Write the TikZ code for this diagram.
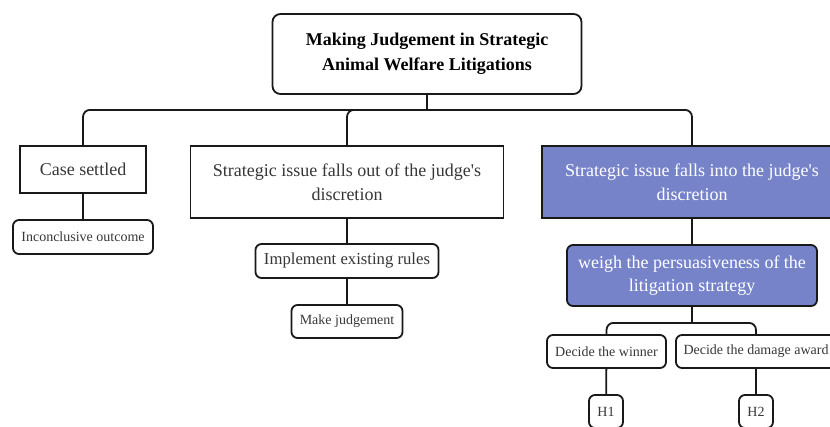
\documentclass[tikz,border=0pt]{standalone}
\usepackage{fontspec}
\setmainfont{Liberation Serif}[Ligatures=TeXOff]
\definecolor{bluefill}{RGB}{118,131,201}
\definecolor{txt}{RGB}{55,55,55}
\definecolor{ln}{RGB}{25,25,25}
\begin{document}
\begin{tikzpicture}[x=1pt,y=-1pt,
  base/.style={draw=ln,line width=1.8pt,inner sep=0pt,align=center,text=txt},
  rbox/.style={base,rounded corners=6pt},
  sbox/.style={base},
  bluebox/.style={base,fill=bluefill,text=white},
  conn/.style={draw=ln,line width=1.8pt,rounded corners=7pt},
  fsL/.style={font=\fontsize{18}{23.5}\selectfont},
  fsM/.style={font=\fontsize{16.7}{22}\selectfont},
  fsS/.style={font=\fontsize{14}{17}\selectfont}]
\useasboundingbox (0,0) rectangle (830,426);
\fill[white] (0,0) rectangle (830,426);
\node[rbox,rounded corners=8pt,minimum width=309pt,minimum height=80pt,text=black,font=\bfseries\fontsize{18}{25}\selectfont] (title) at (427,54) {Making Judgement in Strategic\\ Animal Welfare Litigations};
\node[sbox,fsL,minimum width=126pt,minimum height=47pt] (case) at (83,169.5) {Case settled};
\node[sbox,fsL,minimum width=313pt,minimum height=72pt] (out) at (347,182) {Strategic issue falls out of the judge's\\ discretion};
\node[bluebox,fsL,minimum width=300pt,minimum height=72pt] (into) at (692,182) {Strategic issue falls into the judge's\\ discretion};
\node[rbox,fsS,minimum width=140pt,minimum height=34pt] (incon) at (83,237) {Inconclusive outcome};
\node[rbox,fsM,minimum width=183pt,minimum height=34pt] (impl) at (347,261) {Implement existing rules};
\node[rbox,fsS,minimum width=111pt,minimum height=33pt] (make) at (347,321.5) {Make judgement};
\node[bluebox,rounded corners=6pt,fsL,minimum width=250pt,minimum height=61pt] (weigh) at (692,275.5) {weigh the persuasiveness of the\\ litigation strategy};
\node[rbox,fsS,minimum width=119pt,minimum height=33pt] (win) at (606.5,351.5) {Decide the winner};
\node[rbox,fsS,minimum width=160pt,minimum height=33pt] (dmg) at (756,351.5) {Decide the damage award};
\node[rbox,fsS,minimum width=34pt,minimum height=33pt] (h1) at (606,411.5) {H1};
\node[rbox,fsS,minimum width=34pt,minimum height=33pt] (h2) at (756,411.5) {H2};
\coordinate (j1) at ([yshift=-15pt]title.south);
\coordinate (j2) at ([yshift=-16pt]weigh.south);
\draw[conn] (title.south) -- (j1);
\draw[conn] (j1) -| (case.north);
\draw[conn] (j1) -| (out.north);
\draw[conn] (j1) -| (into.north);
\draw[conn] (case) -- (incon);
\draw[conn] (out) -- (impl);
\draw[conn] (impl) -- (make);
\draw[conn] (into) -- (weigh);
\draw[conn] (weigh.south) -- (j2);
\draw[conn] (j2) -| (win.north);
\draw[conn] (j2) -| (dmg.north);
\draw[conn] (win) -- (h1);
\draw[conn] (dmg) -- (h2);
\end{tikzpicture}
\end{document}
